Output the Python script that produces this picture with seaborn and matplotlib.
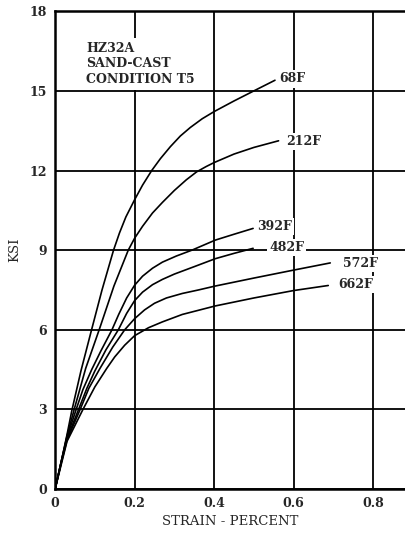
import matplotlib
matplotlib.use("Agg")
import matplotlib.pyplot as plt
import seaborn as sns
import pandas as pd

temps = ["68F", "212F", "392F", "482F", "572F", "662F"]

strain_68 = [0, 0.015, 0.03, 0.042, 0.065, 0.09, 0.118, 0.147, 0.162, 0.178, 0.2, 0.22, 0.243,
             0.265, 0.29, 0.315, 0.34, 0.37, 0.4, 0.45, 0.5, 0.553]
ksi_68 = [0, 1.0, 2.05, 2.95, 4.45, 5.9, 7.5, 9.0, 9.65, 10.25, 10.9, 11.45, 12.0,
          12.45, 12.9, 13.3, 13.62, 13.95, 14.22, 14.62, 15.0, 15.4]

strain_212 = [0, 0.015, 0.03, 0.048, 0.077, 0.112, 0.148, 0.184, 0.2, 0.22, 0.245, 0.27, 0.3,
              0.33, 0.356, 0.38, 0.4, 0.45, 0.5, 0.562]
ksi_212 = [0, 1.0, 2.0, 3.0, 4.55, 6.05, 7.65, 9.0, 9.45, 9.9, 10.4, 10.8, 11.25,
           11.65, 11.95, 12.15, 12.3, 12.62, 12.87, 13.12]

strain_392 = [0, 0.015, 0.03, 0.053, 0.07, 0.092, 0.115, 0.143, 0.16, 0.18, 0.2, 0.22, 0.245,
              0.27, 0.305, 0.344, 0.403, 0.45, 0.498]
ksi_392 = [0, 1.0, 1.95, 3.0, 3.75, 4.5, 5.2, 6.0, 6.58, 7.2, 7.68, 8.02, 8.32,
           8.55, 8.78, 9.0, 9.38, 9.6, 9.82]

strain_482 = [0, 0.015, 0.03, 0.059, 0.08, 0.1, 0.128, 0.159, 0.18, 0.2, 0.22, 0.245, 0.27,
              0.3, 0.35, 0.403, 0.45, 0.498]
ksi_482 = [0, 1.0, 1.9, 3.0, 3.8, 4.45, 5.25, 6.0, 6.62, 7.1, 7.42, 7.7, 7.9,
           8.1, 8.38, 8.68, 8.88, 9.07]

strain_572 = [0, 0.015, 0.03, 0.063, 0.085, 0.113, 0.145, 0.175, 0.2, 0.225, 0.25, 0.28, 0.32,
              0.36, 0.403, 0.5, 0.6, 0.692]
ksi_572 = [0, 0.95, 1.85, 3.0, 3.8, 4.55, 5.35, 6.0, 6.42, 6.75, 7.0, 7.2, 7.37,
           7.5, 7.65, 7.95, 8.25, 8.52]

strain_662 = [0, 0.015, 0.03, 0.07, 0.1, 0.13, 0.15, 0.175, 0.2, 0.235, 0.27, 0.32, 0.403,
              0.5, 0.6, 0.687]
ksi_662 = [0, 0.9, 1.8, 3.0, 3.85, 4.55, 4.98, 5.42, 5.78, 6.08, 6.3, 6.58, 6.9,
           7.2, 7.48, 7.67]

x_ticks = [0, 0.2, 0.4, 0.6, 0.8]
x_tick_labels = ["0", "0.2", "0.4", "0.6", "0.8"]
y_ticks = [0, 3, 6, 9, 12, 15, 18]
y_tick_labels = ["0", "3", "6", "9", "12", "15", "18"]

title_lines = ["HZ32A", "SAND-CAST", "CONDITION T5"]

series = {
    "68F": (strain_68, ksi_68),
    "212F": (strain_212, ksi_212),
    "392F": (strain_392, ksi_392),
    "482F": (strain_482, ksi_482),
    "572F": (strain_572, ksi_572),
    "662F": (strain_662, ksi_662),
}

rows = []
for t in temps:
    xs, ys = series[t]
    for xv, yv in zip(xs, ys):
        rows.append({"temp": t, "strain": xv, "ksi": yv})
df = pd.DataFrame(rows)

sns.set_style("white")
plt.rcParams["font.family"] = ["DejaVu Serif"]

fig = plt.figure(figsize=(4.05, 5.34), dpi=100)
ax = fig.add_axes([0.136, 0.084, 0.864, 0.895])

sns.lineplot(data=df, x="strain", y="ksi", hue="temp", units="temp",
             estimator=None, sort=False, palette=["black"] * 6,
             linewidth=1.2, legend=False, ax=ax, zorder=3)

ax.set_xlim(0, 0.88)
ax.set_ylim(0, 18)
ax.set_xticks(x_ticks)
ax.set_xticklabels(x_tick_labels, fontsize=9, fontweight="bold")
ax.set_yticks(y_ticks)
ax.set_yticklabels(y_tick_labels, fontsize=9, fontweight="bold")
ax.tick_params(length=0, pad=6)
ax.grid(True, color="black", linewidth=1.3)
ax.set_axisbelow(True)
for side in ["left", "bottom", "top"]:
    ax.spines[side].set_color("black")
    ax.spines[side].set_linewidth(1.8)
ax.spines["right"].set_visible(False)

ax.set_xlabel("STRAIN - PERCENT", fontsize=9.5, labelpad=3)
ax.set_ylabel("KSI", fontsize=9.5, labelpad=6)

label_pos = {
    "68F": (0.563, 15.45),
    "212F": (0.58, 13.1),
    "392F": (0.508, 9.9),
    "482F": (0.538, 9.1),
    "572F": (0.725, 8.5),
    "662F": (0.712, 7.7),
}
for t in temps:
    lx, ly = label_pos[t]
    ax.text(lx, ly, t, fontsize=9, fontweight="bold", va="center", ha="left",
            zorder=4, bbox=dict(facecolor="white", edgecolor="none", pad=1.5))

ax.text(0.078, 16.85, "\n".join(title_lines), fontsize=9, fontweight="bold",
        va="top", ha="left", linespacing=1.25, zorder=4,
        bbox=dict(facecolor="white", edgecolor="none", pad=3))

fig.savefig("out.png", dpi=100)
